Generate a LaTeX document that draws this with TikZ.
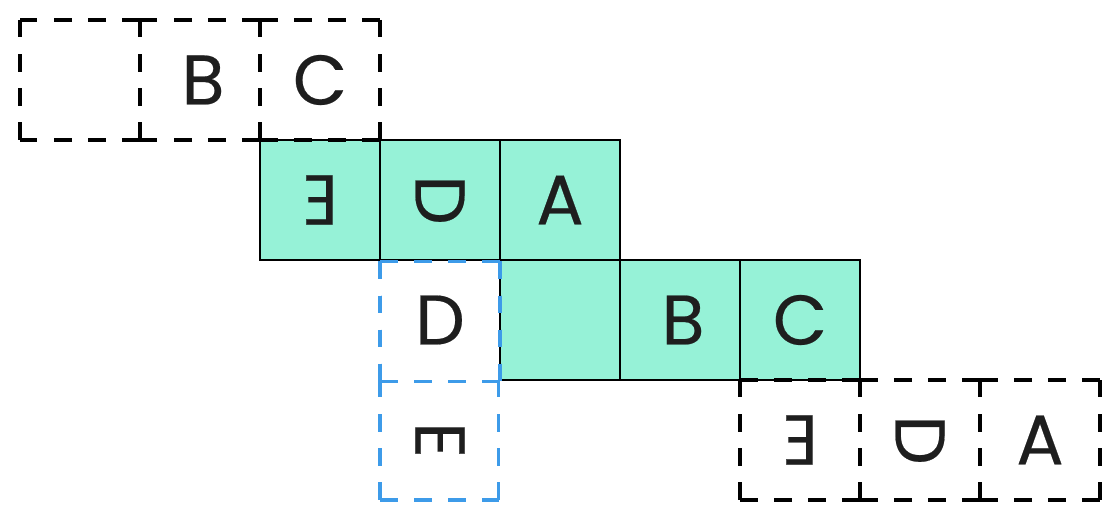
\documentclass[tikz,border=0pt]{standalone}
\usepackage{fontspec}
\setmainfont{Poppins}[FakeBold=0.3]
\definecolor{fillg}{HTML}{96F2D7}
\definecolor{ink}{HTML}{1E1E1E}
\definecolor{blu}{HTML}{3D9BE9}
\newcommand\dashcell[3]{%
  \draw[dsh,#3] (#1,#2) -- ++(120,0);
  \draw[dsh,#3] (#1,#2) -- ++(0,120);
  \draw[dsh,#3] (#1+120,#2) -- ++(0,120);
  \draw[dsh,#3] (#1,#2+120) -- ++(120,0);}
\begin{document}
\begin{tikzpicture}[x=0.02cm,y=-0.02cm,
  solidcell/.style={draw=black,line width=1.6pt,fill=fillg},
  dsh/.style={line width=1.9pt,dash pattern=on 0.35cm off 0.3333cm,line cap=butt},
  lbl/.style={font=\fontsize{40}{40}\selectfont,text=ink,inner sep=0pt}]
\useasboundingbox (0,0) rectangle (1119,520);
% green cells
\foreach \x/\y in {260/140,380/140,500/140,500/260,620/260,740/260}
  \draw[solidcell] (\x,\y) rectangle ++(120,120);
% dashed black cells
\foreach \x/\y in {20/20,140/20,260/20,740/380,860/380,980/380}
  \dashcell{\x}{\y}{black}
% dashed blue cells
\dashcell{380}{261.5}{blu}
\draw[dsh,blu] (380,380) -- ++(0,120);
\draw[dsh,blu] (498.5,380) -- ++(0,120);
\draw[dsh,blu] (380,500) -- ++(118.5,0);
% labels
\node[lbl] (tb) at (203,80) {B};
\node[lbl] (tc) at (320,80) {C};
\node[lbl,xscale=-1] (ge) at (320,200) {E};
\node[lbl,rotate=-90] (gd) at (440,200) {D};
\node[lbl] (ga) at (560,200) {A};
\node[lbl] (gb) at (683,320) {B};
\node[lbl] (gc) at (800,320) {C};
\node[lbl] (bd) at (440,320) {D};
\node[lbl,rotate=-90] (be) at (440,440) {E};
\node[lbl,xscale=-1] (re) at (800,440) {E};
\node[lbl,rotate=-90] (rd) at (920,440) {D};
\node[lbl] (ra) at (1040,440) {A};
\end{tikzpicture}
\end{document}
